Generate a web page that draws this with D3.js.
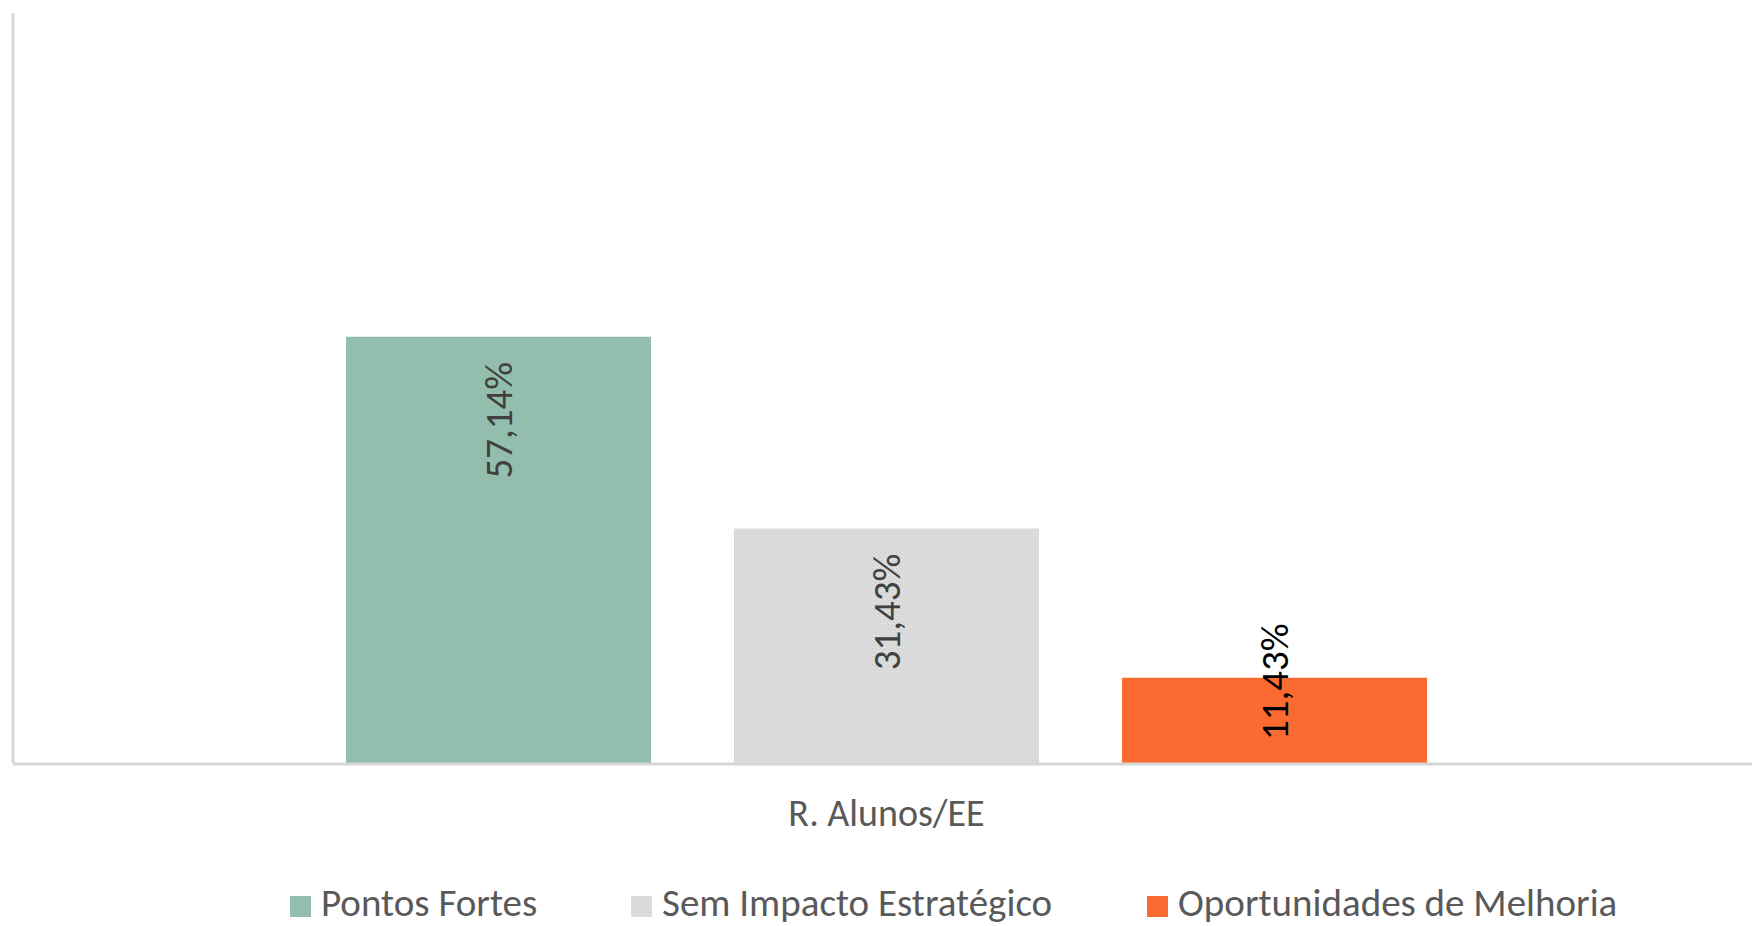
<!DOCTYPE html>
<html>
<head>
<meta charset="utf-8">
<script src="https://cdn.jsdelivr.net/npm/d3@7"></script>
<style>
  body { margin: 0; background: #fff; }
  text { font-family: Carlito, Calibri, Lato, "Open Sans", sans-serif; }
</style>
</head>
<body>
<svg id="chart" width="1752" height="926"></svg>
<script>
// data
let categories = ['R. Alunos/EE'];
let seriesNames = ['Pontos Fortes', 'Sem Impacto Estratégico', 'Oportunidades de Melhoria'];
let seriesValues = [57.14, 31.43, 11.43];
let seriesColors = ['#93BEAE', 'url(#grayTexture)', '#FB6B31'];
let labelColors = ['#404040', '#404040', '#000000'];

let svg = d3.select('#chart');
let width = 1752, height = 926;
let margin = {top: 17, right: -8, bottom: 163, left: 13};

// gray bar has a fine texture
let defs = svg.append('defs');
let pat = defs.append('pattern')
    .attr('id', 'grayTexture')
    .attr('width', 4).attr('height', 4)
    .attr('patternUnits', 'userSpaceOnUse');
pat.append('rect').attr('width', 4).attr('height', 4).attr('fill', '#DCDCDC');
pat.append('rect').attr('x', 0).attr('y', 0).attr('width', 1).attr('height', 1).attr('fill', '#CACACA');
pat.append('rect').attr('x', 2).attr('y', 2).attr('width', 1).attr('height', 1).attr('fill', '#CACACA');
pat.append('rect').attr('x', 1).attr('y', 3).attr('width', 1).attr('height', 1).attr('fill', '#E6E6E6');

let x0 = d3.scaleBand()
    .domain(categories)
    .range([margin.left, width - margin.right])
    .paddingInner(0)
    .paddingOuter(0.308);

let x1 = d3.scaleBand()
    .domain(seriesNames)
    .range([0, x0.bandwidth()])
    .paddingInner(0.214)
    .paddingOuter(0);

let y = d3.scaleLinear()
    .domain([0, 100])
    .range([height - margin.bottom, margin.top]);

// left axis line
svg.append('line')
    .attr('x1', margin.left).attr('x2', margin.left)
    .attr('y1', margin.top - 4).attr('y2', y(0))
    .style('stroke', '#D6D6D6')
    .style('stroke-width', 3);

let g = svg.append('g');
categories.forEach(function (cat) {
    seriesNames.forEach(function (name, i) {
        let bx = x0(cat) + x1(name);
        g.append('rect')
            .attr('x', bx)
            .attr('y', y(seriesValues[i]))
            .attr('width', x1.bandwidth())
            .attr('height', y(0) - y(seriesValues[i]))
            .attr('fill', seriesColors[i]);
    });
});

// baseline
svg.append('line')
    .attr('x1', margin.left).attr('x2', width)
    .attr('y1', y(0) + 1).attr('y2', y(0) + 1)
    .style('stroke', '#D6D6D6')
    .style('stroke-width', 3);

// data labels (rotated)
categories.forEach(function (cat) {
    seriesNames.forEach(function (name, i) {
        let cx = x0(cat) + x1(name) + x1.bandwidth() / 2;
        let label = g.append('text')
            .text(seriesValues[i].toFixed(2).replace('.', ',') + '%')
            .style('font-size', '39px')
            .style('fill', labelColors[i])
            .attr('dy', '0.35em');
        let len = label.node().getComputedTextLength();
        let top = y(seriesValues[i]);
        let barH = y(0) - top;
        if (barH > len + 50) {
            label.attr('text-anchor', 'end')
                .attr('transform', 'translate(' + cx + ',' + (top + 25) + ') rotate(-90)');
        } else {
            label.attr('text-anchor', 'start')
                .attr('transform', 'translate(' + cx + ',' + (y(0) - 23) + ') rotate(-90)');
        }
    });
});

// category label
svg.selectAll('.cat')
    .data(categories)
    .enter()
    .append('text')
    .attr('class', 'cat')
    .attr('x', d => x0(d) + x0.bandwidth() / 2)
    .attr('y', 826)
    .attr('text-anchor', 'middle')
    .style('font-size', '38px')
    .style('fill', '#595959')
    .text(d => d);

// legend
let legendX = [290, 631, 1147];
let legend = svg.append('g');
seriesNames.forEach(function (name, i) {
    legend.append('rect')
        .attr('x', legendX[i]).attr('y', 896)
        .attr('width', 21).attr('height', 21)
        .attr('fill', seriesColors[i]);
    legend.append('text')
        .attr('x', legendX[i] + 31)
        .attr('y', 916)
        .style('font-size', '39px')
        .style('fill', '#595959')
        .text(name);
});
</script>
</body>
</html>
